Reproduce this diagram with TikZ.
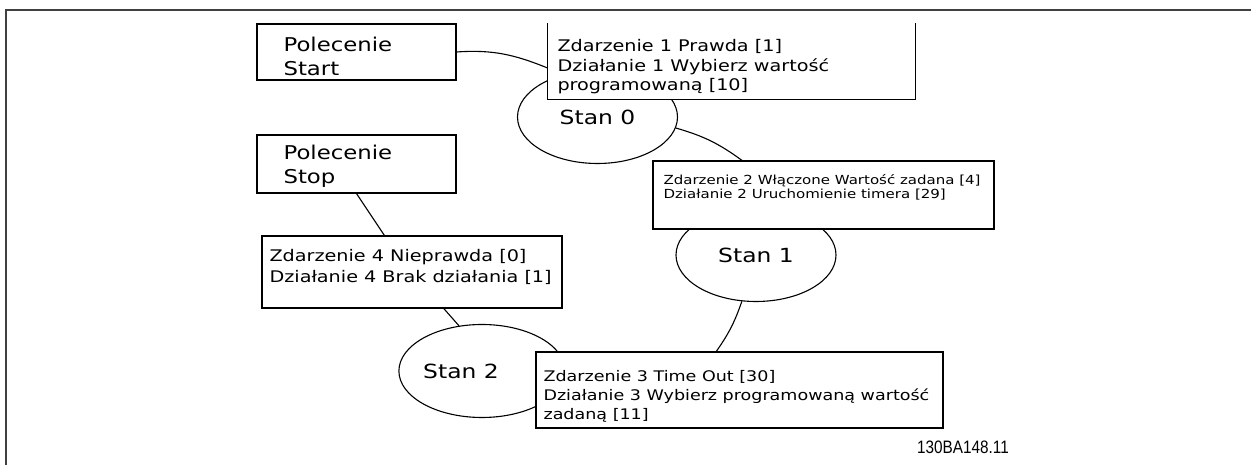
\documentclass[tikz,border=0pt]{standalone}
\usepackage{fontspec}
\usepackage{tikz}
\usetikzlibrary{shapes,arrows}
\newfontfamily\vfont[FakeStretch=1.2]{DejaVu Sans}
\newfontfamily\nfont[FakeStretch=0.85]{Liberation Sans}

\begin{document}
\begin{tikzpicture}[x=1pt, y=1pt,
			box/.style={draw, fill=white, line width=1.2pt, inner sep=0pt},   %Kaesten
			stan/.style={draw, ellipse, line width=1.1pt, inner sep=0pt, minimum width=160pt, minimum height=93pt,
				font=\vfont\fontsize{19.5}{23}\selectfont},
			txt/.style={anchor=west, align=left, inner sep=0pt},
			line width=1.1pt]
			\useasboundingbox (0,0) rectangle (1251,465);
			%Rahmen zeichnen
			\draw[black!75, line width=1.3pt] (6,0) -- (6,455) -- (1251,455);
			% Zustaende zeichnen
			\node[stan] (s0) at (597.5,348) {Stan 0};
			\node[stan] (s1) at (756,210) {Stan 1};
			\node[stan] (s2) at (482,94) {Stan 2\hspace*{42pt}};
			% Kaesten zeichnen
			\node[box, minimum width=199pt, minimum height=56pt] (start) at (356.5,413) {};
			\node[box, minimum width=199pt, minimum height=58pt] (stop) at (356.5,301) {};
			\node[box, draw=none, minimum width=367pt, minimum height=75pt] (z1) at (731.5,403.5) {};
			\draw[line width=1.2pt] (z1.north west) -- (z1.south west) -- (z1.south east) -- (z1.north east);
			\node[box, minimum width=341pt, minimum height=68pt] (z2) at (823.5,270) {};
			\node[box, minimum width=407pt, minimum height=76pt] (z3) at (739.5,75) {};
			\node[box, minimum width=300pt, minimum height=72pt] (z4) at (412,193) {};
			% Texte
			\node[txt, font=\vfont\fontsize{19}{24}\selectfont] (starttext) at (283,409) {Polecenie\\Start};
			\node[txt, font=\vfont\fontsize{19}{24}\selectfont] (stoptext) at (283,299) {Polecenie\\Stop};
			\node[txt, font=\vfont\fontsize{16}{19.5}\selectfont] (z1text) at (557,398)
				{Zdarzenie 1 Prawda [1]\\Działanie 1 Wybierz wartość\\programowaną [10]};
			\node[txt, font=\vfont\fontsize{12.5}{14}\selectfont] (z2text) at (663,278)
				{Zdarzenie 2 Włączone Wartość zadana [4]\\Działanie 2 Uruchomienie timera [29]};
			\node[txt, font=\vfont\fontsize{14.6}{19}\selectfont] (z3text) at (543,69)
				{Zdarzenie 3 Time Out [30]\\Działanie 3 Wybierz programowaną wartość\\zadaną [11]};
			\node[txt, font=\vfont\fontsize{16}{21}\selectfont] (z4text) at (269,198)
				{Zdarzenie 4 Nieprawda [0]\\Działanie 4 Brak działania [1]};
			\node[font=\nfont\fontsize{18}{20}\selectfont] (nummer) at (963,18) {130BA148.11};
			% Verbindungen zeichnen
			\draw (start.east) to[out=4, in=158] (z1.182);
			\draw (s0.-8) to[bend left=10] (z2.157);
			\draw (s1.-107) to[bend left=8] (z3.121);
			\draw (s2.117) -- (z4.-49);
			\draw (stop.south) -- (z4.127);
		\end{tikzpicture}
\end{document}
